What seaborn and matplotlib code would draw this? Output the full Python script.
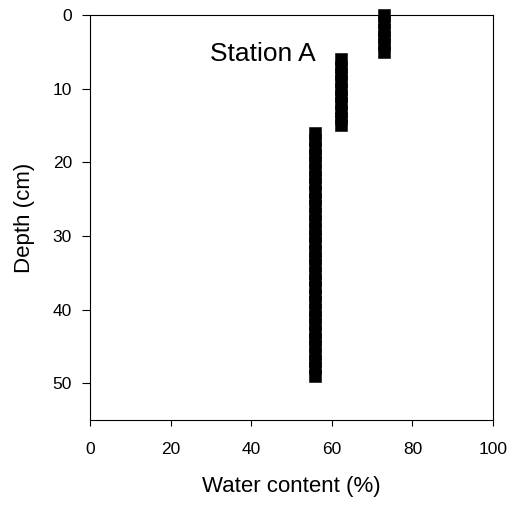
import matplotlib
matplotlib.use("Agg")
import matplotlib.pyplot as plt
import seaborn as sns
import pandas as pd
import numpy as np

sns.set_style("ticks")
plt.rcParams['font.family'] = ['Liberation Sans', 'DejaVu Sans']
plt.rcParams['text.color'] = 'black'
plt.rcParams['axes.labelcolor'] = 'black'

# Data: water content (%) at each depth (cm)
depth_top = [0, 1, 2, 3, 4, 5]
water_top = [73, 73, 73, 73, 73, 73]
depth_mid = [6, 7, 8, 9, 10, 11, 12, 13, 14, 15]
water_mid = [62.3, 62.3, 62.3, 62.3, 62.3, 62.3, 62.3, 62.3, 62.3, 62.3]
depth_low = list(range(16, 50))
water_low = [55.8] * len(depth_low)

df = pd.DataFrame({
    "depth": depth_top + depth_mid + depth_low,
    "water": water_top + water_mid + water_low,
})

fig = plt.figure(figsize=(5.13, 5.05), dpi=100)
ax = fig.add_axes([90/513, 1 - 420/505, (493-90)/513, (420-15)/505])
sns.scatterplot(data=df, x="water", y="depth", marker="s", s=64,
                color="black", edgecolor="black", linewidth=0.4, ax=ax, zorder=3,
                clip_on=False)

ax.set_xlim(0, 100)
ax.set_ylim(55, 0)
ax.set_xticks([0, 20, 40, 60, 80, 100])
ax.set_yticks([0, 10, 20, 30, 40, 50])
ax.tick_params(axis="x", direction="out", length=4.5, width=0.8, pad=11,
               labelsize=12.5, colors="black")
ax.tick_params(axis="y", direction="out", length=6, width=0.8, pad=7,
               labelsize=12.5, colors="black")
ax.set_xlabel("Water content (%)", fontsize=16, labelpad=14, color="black")
ax.set_ylabel("Depth (cm)", fontsize=16, labelpad=13, color="black")
for sp in ax.spines.values():
    sp.set_linewidth(0.8)
    sp.set_color("black")
ax.text(42.8, 5.3, "Station A", fontsize=19, ha="center", va="center", color="black")

fig.savefig("out.png", dpi=100)
